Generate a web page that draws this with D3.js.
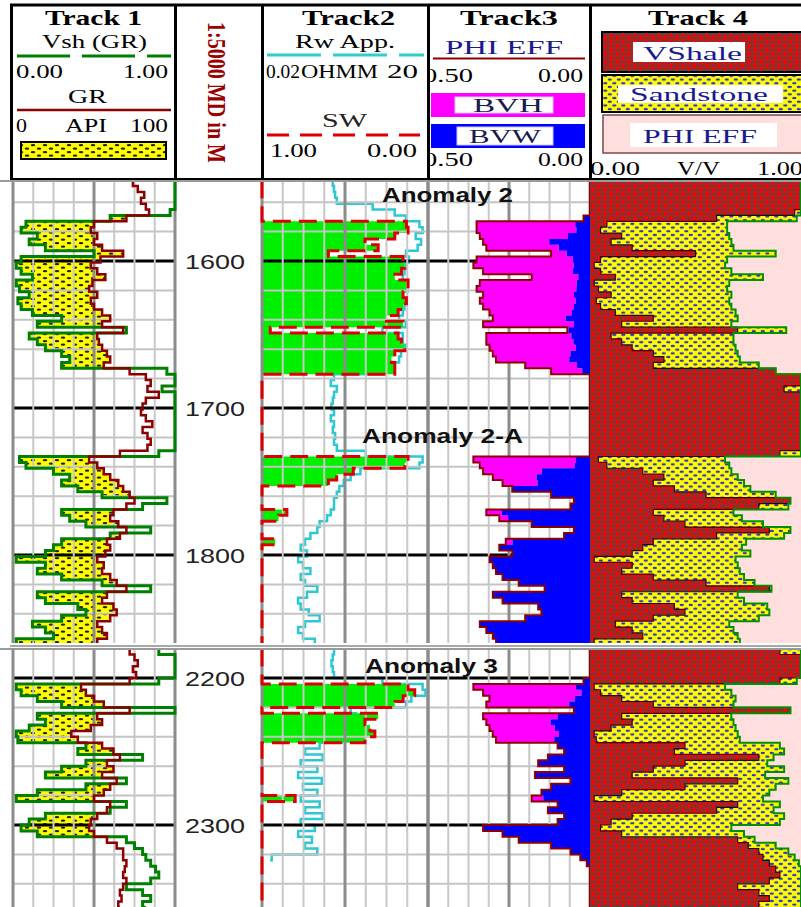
<!DOCTYPE html>
<html>
<head>
<meta charset="utf-8">
<script src="https://cdn.jsdelivr.net/npm/d3@7"></script>
<style>
  body { margin: 0; background: #fff; }
  svg { display: block; }
</style>
</head>
<body>
<div id="chart"></div>
<script>
// ---- section 1 (1545 - 1860 m) ----
const depth1 = [1545,1549,1553,1557,1561,1565,1569,1573,1577,1581,
  1585,1589,1593,1597,1601,1605,1609,1613,1617,1621,
  1625,1629,1633,1637,1641,1645,1649,1653,1657,1661,
  1665,1669,1673,1677,1681,1685,1689,1693,1697,1701,
  1705,1709,1713,1717,1721,1725,1729,1733,1737,1741,
  1745,1749,1753,1757,1761,1765,1769,1773,1777,1781,
  1785,1789,1793,1797,1801,1805,1809,1813,1817,1821,
  1825,1829,1833,1837,1841,1845,1849,1853,1857,1861];
const gr1 = [74,77,81,79,82,84,70,50,48,52,
  50,55,68,54,48,52,57,49,47,52,
  48,50,55,60,55,68,52,53,55,58,
  60,56,72,82,85,83,90,82,80,79,
  82,86,80,83,85,83,66,47,52,56,
  60,65,68,72,75,70,62,60,65,70,
  66,58,60,57,52,56,55,60,64,70,
  58,55,62,64,60,52,55,58,52,55];
const vsh1 = [1,1,1,1,1,0.97,0.6,0.08,0.05,0.15,
  0.1,0.2,0.5,0.05,0.02,0.05,0.12,0.02,0.04,0.1,
  0.03,0.05,0.12,0.3,0.15,0.7,0.1,0.15,0.2,0.3,
  0.35,0.3,0.95,1,1,0.92,1,1,1,1,
  1,1,1,1,1,1,0.9,0.04,0.08,0.25,
  0.35,0.3,0.4,0.55,0.95,0.8,0.3,0.35,0.45,0.85,
  0.6,0.3,0.25,0.2,0.02,0.2,0.15,0.3,0.55,0.85,
  0.15,0.2,0.4,0.45,0.3,0.12,0.2,0.25,0.02,0.3];
const rw1 = [0.38,0.4,0.42,0.45,2,5,8,14,16,12,
  15,13,8,9,8,7.5,7,8,8.5,7,
  8,7.5,7,6,8,3,7,7,8,6.5,
  6,5,3,0.4,0.35,0.45,0.4,0.38,0.36,0.4,
  0.35,0.4,0.38,0.42,0.4,0.45,1.5,16,14,1.2,
  0.8,0.6,0.5,0.45,0.4,0.4,0.35,0.3,0.22,0.2,
  0.15,0.12,0.1,0.13,0.09,0.11,0.15,0.1,0.12,0.2,
  0.13,0.09,0.1,0.14,0.22,0.12,0.09,0.11,0.18,0.2];
const sw1 = [1,1,1,1,1,1,1,0.13,0.12,0.2,
  0.38,0.3,0.6,0.15,0.14,0.16,0.2,0.12,0.12,0.15,
  0.13,0.15,0.18,0.25,0.15,0.95,0.18,0.16,0.14,0.2,
  0.22,0.2,0.2,1,1,1,1,1,1,1,
  1,1,1,1,1,1,1,0.12,0.14,0.45,
  0.55,0.6,1,1,1,1,0.85,0.9,1,1,
  1,0.92,1,1,1,1,1,1,1,1,
  1,1,1,1,1,1,1,1,1,1];
const phie1 = [0,0,0,0,0,0,0.02,0.35,0.35,0.34,
  0.33,0.32,0.12,0.35,0.36,0.33,0.18,0.34,0.35,0.33,
  0.34,0.33,0.31,0.3,0.33,0.07,0.32,0.32,0.31,0.3,
  0.29,0.2,0.12,0,0,0,0,0,0,0,
  0,0,0,0,0,0,0,0.36,0.34,0.33,
  0.3,0.27,0.24,0.12,0.05,0.06,0.32,0.28,0.18,0.05,
  0.08,0.26,0.28,0.24,0.31,0.3,0.29,0.27,0.22,0.14,
  0.3,0.27,0.16,0.15,0.2,0.34,0.32,0.3,0.29,0.28];

// ---- section 2 (2180 - 2356 m) ----
const depth2 = [2180,2184,2188,2192,2196,2200,2204,2208,2212,2216,
  2220,2224,2228,2232,2236,2240,2244,2248,2252,2256,
  2260,2264,2268,2272,2276,2280,2284,2288,2292,2296,
  2300,2304,2308,2312,2316,2320,2324,2328,2332,2336,
  2340,2344,2348,2352,2356];
const gr2 = [72,75,77,74,76,72,42,45,50,56,
  72,52,55,48,36,40,55,62,66,58,
  62,55,64,60,56,50,60,58,52,48,
  47,50,58,64,68,68,70,69,68,70,
  68,66,67,65,66];
const vsh2 = [0.9,1,1,1,1,0.9,0.02,0.05,0.15,0.3,
  1,0.15,0.2,0.1,0.02,0.03,0.45,0.4,0.8,0.45,
  0.3,0.2,0.7,0.45,0.15,0.02,0.7,0.6,0.2,0.1,
  0.05,0.15,0.7,0.75,0.8,0.82,0.85,0.88,0.9,0.85,
  0.7,0.8,0.85,0.8,0.82];
const rw2 = [0.4,0.38,0.36,0.38,0.4,3,16,18,10,8,
  0.8,1,0.9,0.7,0.6,0.55,0.22,0.12,0.25,0.1,
  0.2,0.09,0.24,0.11,0.2,0.1,0.22,0.12,0.25,0.1,
  0.18,0.09,0.16,0.12,0.2,0.03,0.028,null,null,null,
  null,null,null,null,null];
const sw2 = [1,1,1,1,1,1,0.12,0.08,0.15,0.2,
  1,0.3,0.38,0.35,0.32,0.38,1,1,1,1,
  1,1,1,1,1,0.8,1,1,1,1,
  1,1,1,1,1,1,1,1,1,1,
  1,1,1,1,1];
const phie2 = [0,0,0,0,0,0.02,0.36,0.33,0.31,0.32,
  0.05,0.33,0.32,0.31,0.3,0.29,0.1,0.08,0.13,0.16,
  0.08,0.17,0.06,0.12,0.15,0.18,0.1,0.13,0.08,0.1,
  0.33,0.27,0.22,0.12,0.06,0.03,0.01,0,0,0,
  0,0,0,0,0];

// ---- labels ----
const depthLabels = [1600, 1700, 1800, 2200, 2300];
const anomalyNames = ['Anomaly 2', 'Anomaly 2-A', 'Anomaly 3'];
const anomalyDepths = [1555, 1719, 2191.5];

const rows1 = depth1.map((d, i) => ({depth: d, gr: gr1[i], vsh: vsh1[i], rw: rw1[i], sw: sw1[i], phie: phie1[i]}));
const rows2 = depth2.map((d, i) => ({depth: d, gr: gr2[i], vsh: vsh2[i], rw: rw2[i], sw: sw2[i], phie: phie2[i]}));

const W = 801, H = 907;
const svg = d3.select('#chart').append('svg').attr('width', W).attr('height', H);
svg.append('rect').attr('width', W).attr('height', H).attr('fill', '#fff');

// scales
const xVsh = d3.scaleLinear().domain([0, 1]).range([13, 175]);
const xGR = d3.scaleLinear().domain([0, 100]).range([13, 175]);
const xRw = d3.scaleLog().domain([0.02, 20]).range([262, 428]);
const xSW = d3.scaleLinear().domain([1, 0]).range([262, 428]);
const xPhi = d3.scaleLinear().domain([0.5, 0]).range([428, 590]);
const xV = d3.scaleLinear().domain([0, 1]).range([590, 801]);
const y1 = d3.scaleLinear().domain([1600, 1800]).range([261, 555]);
const y2 = d3.scaleLinear().domain([2200, 2300]).range([678, 825]);

const sections = [
  {rows: rows1, y: y1, top: 180, bottom: 643},
  {rows: rows2, y: y2, top: 648, bottom: 907}
];

// patterns
const defs = svg.append('defs');
let p = defs.append('pattern').attr('id', 'sandK').attr('patternUnits', 'userSpaceOnUse')
  .attr('width', 12).attr('height', 7);
p.append('rect').attr('width', 12).attr('height', 7).attr('fill', '#ffff00');
p.append('ellipse').attr('cx', 3).attr('cy', 1.7).attr('rx', 2.3).attr('ry', 1.1).attr('fill', '#222');
p.append('ellipse').attr('cx', 9).attr('cy', 5.2).attr('rx', 2.3).attr('ry', 1.1).attr('fill', '#222');

p = defs.append('pattern').attr('id', 'sandB').attr('patternUnits', 'userSpaceOnUse')
  .attr('width', 9).attr('height', 7.4);
p.append('rect').attr('width', 9).attr('height', 7.4).attr('fill', '#ffff00');
p.append('ellipse').attr('cx', 2.3).attr('cy', 1.8).attr('rx', 2.2).attr('ry', 1.2).attr('fill', '#3434c4');
p.append('ellipse').attr('cx', 6.8).attr('cy', 5.5).attr('rx', 2.2).attr('ry', 1.2).attr('fill', '#3434c4');

p = defs.append('pattern').attr('id', 'brick').attr('patternUnits', 'userSpaceOnUse')
  .attr('width', 12).attr('height', 8);
p.append('rect').attr('width', 12).attr('height', 8).attr('fill', '#ff0000');
p.append('rect').attr('x', 0).attr('y', 1).attr('width', 10).attr('height', 2).attr('fill', '#4a4a4a');
p.append('rect').attr('x', 6).attr('y', 5).attr('width', 10).attr('height', 2).attr('fill', '#4a4a4a');
p.append('rect').attr('x', -6).attr('y', 5).attr('width', 10).attr('height', 2).attr('fill', '#4a4a4a');

// ---------- header ----------
const hd = svg.append('g');
function label(g, str, x, y, len, o = {}) {
  const t = g.append('text').attr('x', x).attr('y', y).text(str)
    .attr('font-family', o.family || '"Liberation Serif", serif')
    .attr('font-size', o.size || 18)
    .attr('font-weight', o.weight || 'normal')
    .attr('fill', o.fill || '#000');
  if (len) t.attr('textLength', len).attr('lengthAdjust', 'spacingAndGlyphs');
  return t;
}
function hline(g, xa, xb, y, color, w, dash) {
  const l = g.append('line').attr('x1', xa).attr('x2', xb).attr('y1', y).attr('y2', y)
    .attr('stroke', color).attr('stroke-width', w);
  if (dash) l.attr('stroke-dasharray', dash);
}

// track 1
label(hd, 'Track 1', 45, 25, 97, {size: 21, weight: 'bold'});
label(hd, 'Vsh (GR)', 42, 48, 105);
hline(hd, 17, 171, 56, '#008000', 3, '53,12');
label(hd, '0.00', 16, 78, 47);
label(hd, '1.00', 123, 78, 45);
label(hd, 'GR', 68, 103, 39);
hline(hd, 17, 171, 110, '#8b0000', 2.5);
label(hd, '0', 16, 132, 11);
label(hd, 'API', 65, 132, 42);
label(hd, '100', 130, 132, 38);
hd.append('rect').attr('x', 21).attr('y', 142).attr('width', 145).attr('height', 17)
  .attr('fill', 'url(#sandK)').attr('stroke', '#000').attr('stroke-width', 2);

// depth track title
hd.append('text').attr('transform', 'translate(208,22) rotate(90)')
  .attr('font-family', '"Liberation Serif", serif').attr('font-size', 26).attr('font-weight', 'bold')
  .attr('fill', '#990000').attr('textLength', 141).attr('lengthAdjust', 'spacingAndGlyphs')
  .text('1:5000 MD in M');

// track 2
label(hd, 'Track2', 302, 25, 93, {size: 21, weight: 'bold'});
label(hd, 'Rw App.', 295, 48, 100);
hline(hd, 267, 424, 55, '#33cccc', 3, '54,12');
label(hd, '0.02', 266, 78, 34);
label(hd, 'OHMM', 301, 78, 77);
label(hd, '20', 387, 78, 31);
label(hd, 'SW', 322, 127, 45, {fill: '#222'});
hline(hd, 267, 420, 135, '#dd0000', 3, '22,11');
label(hd, '1.00', 270, 157, 47);
label(hd, '0.00', 367, 157, 50);

// track 3
defs.append('clipPath').attr('id', 'hclip3').append('rect')
  .attr('x', 430).attr('y', 0).attr('width', 160).attr('height', 180);
const h3 = hd.append('g').attr('clip-path', 'url(#hclip3)');
label(h3, 'Track3', 460, 25, 98, {size: 21, weight: 'bold'});
label(h3, 'PHI EFF', 445, 54, 118, {fill: '#1a1a8c'});
hline(h3, 433, 585, 58.5, '#8b0000', 2);
label(h3, '0.50', 423, 82, 50);
label(h3, '0.00', 538, 82, 45);
h3.append('rect').attr('x', 431).attr('y', 93).attr('width', 154).attr('height', 24).attr('fill', '#ff00ff');
h3.append('rect').attr('x', 455).attr('y', 97).attr('width', 98).attr('height', 16)
  .attr('fill', '#fff').attr('stroke', '#e0c8ff').attr('stroke-width', 1);
label(h3, 'BVH', 473, 112, 70, {fill: '#1a1a50'});
h3.append('rect').attr('x', 431).attr('y', 124).attr('width', 154).attr('height', 24).attr('fill', '#0000ff');
h3.append('rect').attr('x', 457).attr('y', 127).attr('width', 96).attr('height', 18)
  .attr('fill', '#fff').attr('stroke', '#c8c8ff').attr('stroke-width', 1);
label(h3, 'BVW', 469, 143, 72, {fill: '#1a1a50'});
label(h3, '0.50', 423, 166, 50);
label(h3, '0.00', 538, 166, 45);

// track 4
label(hd, 'Track 4', 648, 25, 100, {size: 21, weight: 'bold'});
hd.append('rect').attr('x', 602).attr('y', 32).attr('width', 205).attr('height', 40)
  .attr('fill', 'url(#brick)').attr('stroke', '#000').attr('stroke-width', 2);
hd.append('rect').attr('x', 633).attr('y', 42).attr('width', 112).attr('height', 20).attr('fill', '#fff');
label(hd, 'VShale', 643, 60, 99, {fill: '#1a1a8c'});
hd.append('rect').attr('x', 602).attr('y', 75).attr('width', 205).attr('height', 37)
  .attr('fill', 'url(#sandB)').attr('stroke', '#000').attr('stroke-width', 2);
hd.append('rect').attr('x', 618).attr('y', 85).attr('width', 165).attr('height', 18).attr('fill', '#fff');
label(hd, 'Sandstone', 630, 101, 138, {fill: '#1a1a8c'});
hd.append('rect').attr('x', 603).attr('y', 115).attr('width', 204).attr('height', 38)
  .attr('fill', '#ffdede').attr('stroke', '#7a4a4a').attr('stroke-width', 1.5);
hd.append('rect').attr('x', 630).attr('y', 123).attr('width', 147).attr('height', 24).attr('fill', '#fff');
label(hd, 'PHI EFF', 643, 143, 114, {fill: '#1a1a8c'});
label(hd, '0.00', 590, 175, 50);
label(hd, 'V/V', 677, 175, 43);
label(hd, '1.00', 757, 175, 46);

// header frame
hline(hd, 10, 801, 5, '#000', 3);
hline(hd, 10, 801, 179, '#000', 2);
[11.5, 175.5, 262.5, 428.5, 590.5].forEach(x => {
  hd.append('line').attr('x1', x).attr('x2', x).attr('y1', 4).attr('y2', 180)
    .attr('stroke', '#000').attr('stroke-width', 3);
});

// ---------- body ----------
const step = d3.curveStepBefore;

function hgrid(g, sec, left, right) {
  const d0 = Math.ceil(sec.y.invert(sec.top) / 20) * 20;
  const ticks = d3.range(d0, sec.y.invert(sec.bottom), 20);
  g.selectAll(null).data(ticks).enter().append('line')
    .attr('x1', left).attr('x2', right)
    .attr('y1', d => sec.y(d)).attr('y2', d => sec.y(d))
    .attr('stroke', d => d % 100 === 0 ? '#000' : '#c4c4c4')
    .attr('stroke-width', d => d % 100 === 0 ? 3 : 2);
}
function vgrid(g, sec, scale) {
  const dom = scale.domain();
  const xs = d3.range(9).map(k => scale(dom[0] + k * (dom[1] - dom[0]) / 8));
  g.selectAll(null).data(xs).enter().append('line')
    .attr('x1', d => d).attr('x2', d => d)
    .attr('y1', sec.top).attr('y2', sec.bottom)
    .attr('stroke', (d, i) => i % 4 === 0 ? '#8c8c8c' : '#c8c8c8')
    .attr('stroke-width', (d, i) => i % 4 === 0 ? 3 : 2);
}

sections.forEach((sec, si) => {
  defs.append('clipPath').attr('id', 'sclip' + si).append('rect')
    .attr('x', 0).attr('y', sec.top).attr('width', W).attr('height', sec.bottom - sec.top);
  const g = svg.append('g').attr('clip-path', 'url(#sclip' + si + ')');
  const yd = d => sec.y(d.depth);
  const rows = sec.rows;

  // track 3 grid (under fills)
  const g3 = g.append('g');
  hgrid(g3, sec, 428, 590);
  vgrid(g3, sec, xPhi);

  // track 2 Rw apparent (cyan)
  g.append('path').datum(rows)
    .attr('d', d3.line().defined(d => d.rw != null).x(d => xRw(d.rw)).y(yd).curve(step))
    .attr('fill', 'none').attr('stroke', '#2ec8d2').attr('stroke-width', 2.5);

  // track 1 sand fill between Vsh and GR
  g.append('path').datum(rows)
    .attr('d', d3.area().y(yd).x0(d => xVsh(d.vsh)).x1(d => Math.max(xVsh(d.vsh), xGR(d.gr))).curve(step))
    .attr('fill', 'url(#sandK)');

  // track 2 hydrocarbon (green) fill
  g.append('path').datum(rows)
    .attr('d', d3.area().y(yd).x0(xSW(1)).x1(d => xSW(d.sw)).curve(step))
    .attr('fill', '#00f000');

  // tracks 1 and 2 grid (over fills)
  const g12 = g.append('g');
  hgrid(g12, sec, 13, 175);
  hgrid(g12, sec, 262, 428);
  vgrid(g12, sec, xVsh);
  vgrid(g12, sec, xSW);

  // track 3: BVH (magenta) and BVW (blue)
  g.append('path').datum(rows)
    .attr('d', d3.area().y(yd).x0(d => xPhi(d.phie)).x1(d => xPhi(d.phie * d.sw)).curve(step))
    .attr('fill', '#ff00ff');
  g.append('path').datum(rows)
    .attr('d', d3.area().y(yd).x0(d => xPhi(d.phie * d.sw)).x1(xPhi(0)).curve(step))
    .attr('fill', '#0000ff');
  g.append('path').datum(rows)
    .attr('d', d3.line().x(d => xPhi(d.phie)).y(yd).curve(step))
    .attr('fill', 'none').attr('stroke', '#8b0000').attr('stroke-width', 2);

  // track 4: VShale / Sandstone / PHI EFF
  const vs = d => Math.min(d.vsh, 1 - d.phie);
  g.append('path').datum(rows)
    .attr('d', d3.area().y(yd).x0(xV(0)).x1(d => xV(vs(d))).curve(step))
    .attr('fill', 'url(#brick)');
  g.append('path').datum(rows)
    .attr('d', d3.area().y(yd).x0(d => xV(vs(d))).x1(d => xV(1 - d.phie)).curve(step))
    .attr('fill', 'url(#sandB)');
  g.append('path').datum(rows)
    .attr('d', d3.area().y(yd).x0(d => xV(1 - d.phie)).x1(xV(1)).curve(step))
    .attr('fill', '#ffdede');
  g.append('path').datum(rows)
    .attr('d', d3.line().x(d => xV(vs(d))).y(yd).curve(step))
    .attr('fill', 'none').attr('stroke', '#3a0000').attr('stroke-width', 1.2);
  g.append('path').datum(rows)
    .attr('d', d3.line().x(d => xV(1 - d.phie)).y(yd).curve(step))
    .attr('fill', 'none').attr('stroke', '#009000').attr('stroke-width', 2);

  // track 1 curves
  g.append('path').datum(rows)
    .attr('d', d3.line().x(d => xVsh(d.vsh)).y(yd).curve(step))
    .attr('fill', 'none').attr('stroke', '#008000').attr('stroke-width', 3);
  g.append('path').datum(rows)
    .attr('d', d3.line().x(d => xGR(d.gr)).y(yd).curve(step))
    .attr('fill', 'none').attr('stroke', '#8b0000').attr('stroke-width', 2.5);

  // track 2 SW
  g.append('path').datum(rows)
    .attr('d', d3.line().x(d => xSW(d.sw)).y(yd).curve(step))
    .attr('fill', 'none').attr('stroke', '#dd0000').attr('stroke-width', 3)
    .attr('stroke-dasharray', '18,8');

  // section border lines
  g.append('line').attr('x1', 0).attr('x2', W).attr('y1', sec.top + 1).attr('y2', sec.top + 1)
    .attr('stroke', '#9a9a9a').attr('stroke-width', 2);
});

// separator between the two intervals
svg.append('rect').attr('x', 10).attr('y', 643).attr('width', 791).attr('height', 5).attr('fill', '#fff');
svg.append('line').attr('x1', 10).attr('x2', 801).attr('y1', 646).attr('y2', 646)
  .attr('stroke', '#a8a8a8').attr('stroke-width', 2);

// depth labels
svg.append('g').selectAll('text').data(depthLabels).enter().append('text')
  .attr('x', 185)
  .attr('y', d => (d < 2000 ? y1 : y2)(d) + 8)
  .attr('font-family', '"Liberation Sans", Arial, sans-serif').attr('font-size', 21)
  .attr('fill', '#222').attr('textLength', 60).attr('lengthAdjust', 'spacingAndGlyphs')
  .text(d => d);

// anomaly labels
const anomalyX = [382, 362, 365];
const anomalyLen = [131, 161, 133];
svg.append('g').selectAll('text').data(anomalyNames).enter().append('text')
  .attr('x', (d, i) => anomalyX[i])
  .attr('y', (d, i) => (anomalyDepths[i] < 2000 ? y1 : y2)(anomalyDepths[i]) + 7.5)
  .attr('font-family', '"Liberation Sans", Arial, sans-serif').attr('font-size', 20)
  .attr('font-weight', 'bold').attr('fill', '#111')
  .attr('textLength', (d, i) => anomalyLen[i]).attr('lengthAdjust', 'spacingAndGlyphs')
  .text(d => d);
</script>
</body>
</html>
